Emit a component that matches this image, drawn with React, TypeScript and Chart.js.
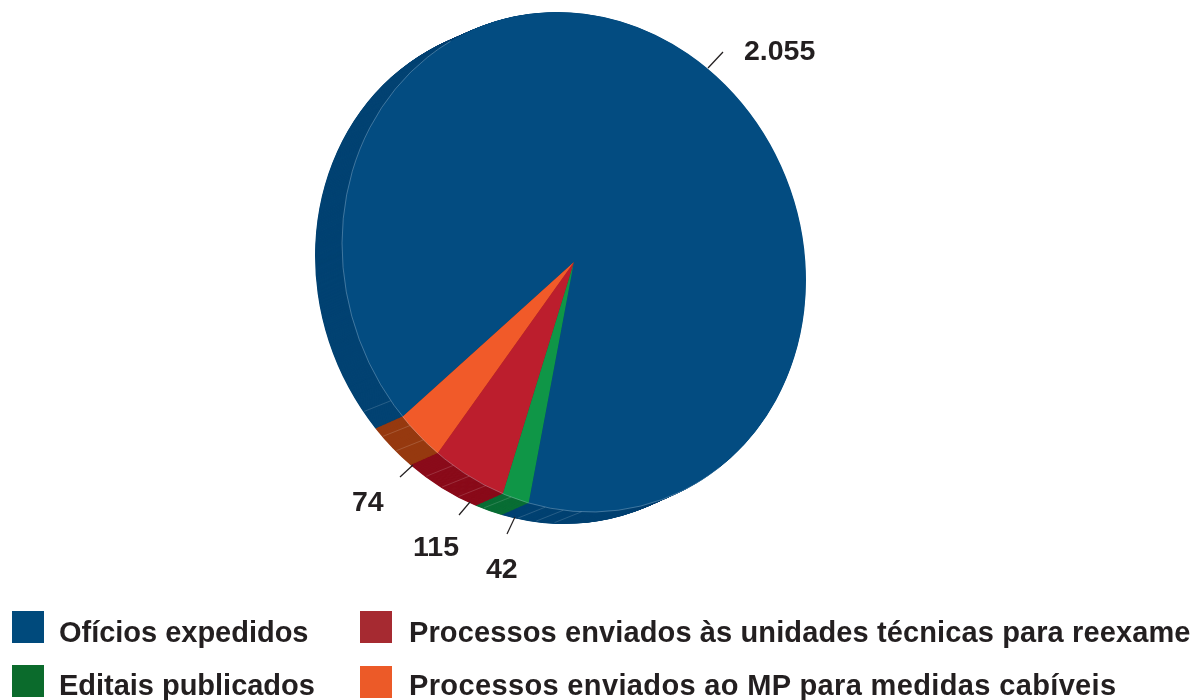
import React, { useEffect, useRef } from "react";
import { Chart, registerables } from "chart.js";

Chart.register(...registerables);

const categories = [
  "Ofícios expedidos",
  "Editais publicados",
  "Processos enviados às unidades técnicas para reexame",
  "Processos enviados ao MP para medidas cabíveis",
];
const values = [2055, 42, 115, 74];
const valueLabels = ["2.055", "42", "115", "74"];
const faceColors = ["#034c81", "#0f9647", "#bc1e2d", "#f15a29"];
const sideColors = ["#024272", "#0a6e35", "#8a0b1a", "#96390f"];
const legendColors = ["#004a7c", "#0b6b2c", "#a62a31", "#ec5a28"];

const FONT = '"Liberation Sans", Arial, sans-serif';
const TEXT = "#231f20";

// Look of the tilted, extruded pie
const TILT = (-22 * Math.PI) / 180;
const SCALE_X = 228.3 / 262;
const SCALE_Y = 253.4 / 262;
const DEPTH_X = -27;
const DEPTH_Y = 12;
const DEPTH_STEPS = 54;
const FACET_STEP = (4.5 * Math.PI) / 180;

// Leader line and text placement, in canvas pixels, by slice
const labelLayout = [
  { line: [708, 68, 723, 52], tx: 744, ty: 52 },
  { line: [515, 517, 507, 534], tx: 486, ty: 570 },
  { line: [470, 502, 459, 515], tx: 413, ty: 548 },
  { line: [413, 465, 400, 477], tx: 352, ty: 503 },
];
const legendLayout = [
  { x: 12, y: 611, tx: 59, ty: 615, spacing: -0.02 },
  { x: 12, y: 665, tx: 59, ty: 668, spacing: -0.02 },
  { x: 360, y: 611, tx: 409, ty: 615, spacing: 0.12 },
  { x: 360, y: 666, tx: 409, ty: 668, spacing: 0.36 },
];

const toCanvas = (cx: number, cy: number, r: number, a: number) => {
  const lx = r * Math.cos(a) * SCALE_X;
  const ly = r * Math.sin(a) * SCALE_Y;
  return {
    x: cx + lx * Math.cos(TILT) - ly * Math.sin(TILT),
    y: cy + lx * Math.sin(TILT) + ly * Math.cos(TILT),
  };
};

const applyPieTransform = (ctx: CanvasRenderingContext2D, cx: number, cy: number) => {
  ctx.translate(cx, cy);
  ctx.rotate(TILT);
  ctx.scale(SCALE_X, SCALE_Y);
  ctx.translate(-cx, -cy);
};

const extrudedPie = {
  id: "extrudedPie",
  beforeDatasetDraw(chart: any) {
    const { ctx } = chart;
    const arcs = chart.getDatasetMeta(0).data;
    const { x: cx, y: cy } = arcs[0];
    for (let s = DEPTH_STEPS; s >= 1; s--) {
      const t = s / DEPTH_STEPS;
      arcs.forEach((arc: any, i: number) => {
        ctx.save();
        ctx.translate(DEPTH_X * t, DEPTH_Y * t);
        applyPieTransform(ctx, cx, cy);
        ctx.beginPath();
        ctx.moveTo(arc.x, arc.y);
        ctx.arc(arc.x, arc.y, arc.outerRadius, arc.startAngle, arc.endAngle);
        ctx.closePath();
        ctx.fillStyle = sideColors[i];
        ctx.fill();
        ctx.restore();
      });
    }
    ctx.save();
    applyPieTransform(ctx, cx, cy);
  },
  afterDatasetDraw(chart: any) {
    const { ctx } = chart;
    ctx.restore();
    const arcs = chart.getDatasetMeta(0).data;
    const { x: cx, y: cy } = arcs[0];
    const R = arcs[0].outerRadius;

    // pale rim of the face where it meets the side wall
    ctx.save();
    applyPieTransform(ctx, cx, cy);
    ctx.beginPath();
    ctx.arc(cx, cy, R, (75 * Math.PI) / 180, (262 * Math.PI) / 180);
    ctx.restore();
    ctx.strokeStyle = "rgba(200,220,235,0.45)";
    ctx.lineWidth = 0.7;
    ctx.stroke();

    // facet lines on the side wall
    arcs.forEach((arc: any) => {
      for (let a = arc.startAngle + FACET_STEP; a < arc.endAngle - FACET_STEP / 3; a += FACET_STEP) {
        const deg = ((a * 180) / Math.PI + 720) % 360;
        if (deg < 110 || deg > 170) continue;
        const p = toCanvas(cx, cy, R, a);
        ctx.beginPath();
        ctx.moveTo(p.x, p.y);
        ctx.lineTo(p.x + DEPTH_X, p.y + DEPTH_Y * 0.9);
        ctx.strokeStyle = "rgba(255,255,255,0.22)";
        ctx.lineWidth = 0.7;
        ctx.stroke();
      }
    });

    // leader lines and values
    ctx.font = `bold 28.5px ${FONT}`;
    ctx.textBaseline = "middle";
    ctx.textAlign = "left";
    labelLayout.forEach((l, i) => {
      ctx.beginPath();
      ctx.moveTo(l.line[0], l.line[1]);
      ctx.lineTo(l.line[2], l.line[3]);
      ctx.strokeStyle = TEXT;
      ctx.lineWidth = 1.2;
      ctx.stroke();
      ctx.fillStyle = TEXT;
      ctx.fillText(valueLabels[i], l.tx, l.ty);
    });
  },
};

export default function App() {
  const ref = useRef<HTMLCanvasElement>(null);
  useEffect(() => {
    document.body.style.margin = "0";
    const chart = new Chart(ref.current!, {
      type: "pie",
      data: {
        labels: categories,
        datasets: [
          {
            data: values,
            backgroundColor: faceColors,
            borderWidth: 0,
            clip: false,
          } as any,
        ],
      },
      options: {
        responsive: false,
        animation: false,
        rotation: 251.8,
        layout: { padding: { left: 0, top: 0, right: 47, bottom: 176 } },
        plugins: { legend: { display: false }, tooltip: { enabled: false } },
      },
      plugins: [extrudedPie],
    });
    return () => chart.destroy();
  }, []);

  return (
    <div style={{ position: "relative", width: 1195, height: 700, overflow: "hidden", background: "#fff" }}>
      <canvas ref={ref} width={1195} height={700} style={{ position: "absolute", left: 0, top: 0 }} />
      {categories.map((c, i) => (
        <React.Fragment key={c}>
          <div
            style={{
              position: "absolute",
              left: legendLayout[i].x,
              top: legendLayout[i].y,
              width: 32,
              height: 32,
              background: legendColors[i],
            }}
          />
          <div
            style={{
              position: "absolute",
              left: legendLayout[i].tx,
              top: legendLayout[i].ty,
              font: `bold 29px/34px ${FONT}`,
              letterSpacing: `${legendLayout[i].spacing}px`,
              color: TEXT,
              whiteSpace: "nowrap",
            }}
          >
            {c}
          </div>
        </React.Fragment>
      ))}
    </div>
  );
}
